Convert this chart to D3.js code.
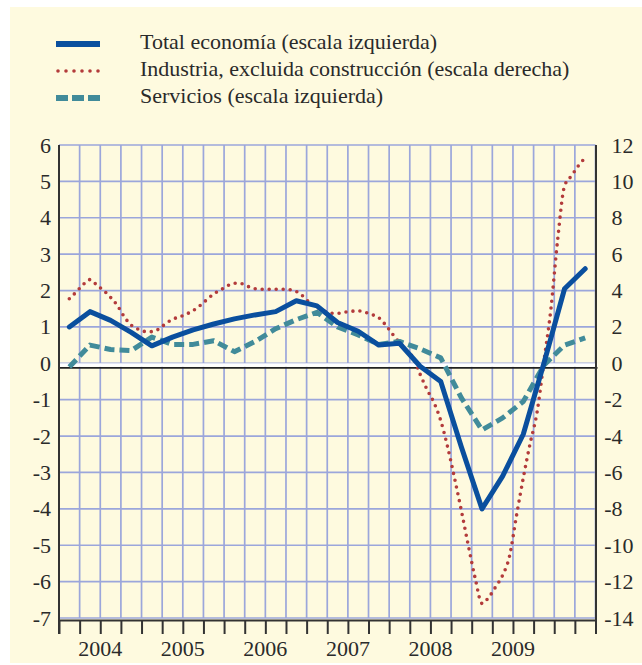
<!DOCTYPE html>
<html>
<head>
<meta charset="utf-8">
<script src="https://cdn.jsdelivr.net/npm/d3@7/dist/d3.min.js"></script>
<style>
  html, body { margin: 0; padding: 0; background: #ffffff; }
  svg { display: block; }
</style>
</head>
<body>
<script>
// ---------------- DATA ----------------
// Quarters 2004 Q1 .. 2010 Q2
const quarters = ["2004T1","2004T2","2004T3","2004T4","2005T1","2005T2","2005T3","2005T4",
  "2006T1","2006T2","2006T3","2006T4","2007T1","2007T2","2007T3","2007T4",
  "2008T1","2008T2","2008T3","2008T4","2009T1","2009T2","2009T3","2009T4","2010T1","2010T2"];
const yearLabels = ["2004","2005","2006","2007","2008","2009"];
const leftTicks = [-7,-6,-5,-4,-3,-2,-1,0,1,2,3,4,5,6];
const rightTicks = [-14,-12,-10,-8,-6,-4,-2,0,2,4,6,8,10,12];

// Total economía (left scale), quarterly
const totalEconomia = [1.0,1.42,1.18,0.85,0.48,0.72,0.92,1.08,1.22,1.33,1.42,1.72,1.58,1.12,0.88,0.5,
  0.55,-0.08,-0.5,-2.3,-4.0,-3.1,-1.95,0.0,2.05,2.6];
// Servicios (left scale), quarterly
const servicios = [-0.1,0.5,0.38,0.35,0.72,0.52,0.52,0.62,0.32,0.6,0.95,1.2,1.4,1.0,0.78,0.52,
  0.6,0.4,0.15,-0.95,-1.83,-1.5,-1.05,-0.05,0.5,0.7];
// Industria, excluida construcción (right scale), monthly from Feb 2004 to May 2010
const industria = [3.55,3.92,4.32,4.6,4.3,4.0,3.62,3.17,2.55,2.1,1.88,1.75,
  1.74,1.88,2.18,2.42,2.55,2.7,2.9,3.17,3.5,3.82,4.03,4.26,
  4.4,4.38,4.22,4.1,4.07,4.07,4.07,4.07,4.05,3.95,3.68,3.32,
  3.07,2.88,2.75,2.75,2.81,2.86,2.88,2.8,2.68,2.5,2.1,1.6,
  1.15,0.72,0.3,-0.6,-1.44,-2.15,-3.15,-4.6,-6.3,-8.1,-10.0,-11.8,
  -13.2,-12.85,-12.28,-11.65,-10.6,-8.4,-6.3,-4.4,-2.7,0.1,2.93,6.8,
  9.75,10.3,10.85,11.3];

const legendItems = [
  {label: "Total economía (escala izquierda)", key: "total"},
  {label: "Industria, excluida construcción (escala derecha)", key: "ind"},
  {label: "Servicios (escala izquierda)", key: "serv"}
];

// ---------------- STYLE ----------------
const W = 642, H = 665;
const FONT = '"Liberation Serif"';
const FS = 22;
const cream = "#fefadf";
const gridColor = "#9ba6db";
const axisColor = "#333333";
const textColor = "#2a2a2a";
const cBlue = "#0a4f9e";
const cRed = "#b33b3b";
const cTeal = "#418b9a";

const styles = {
  total: {stroke: cBlue, width: 5, dash: null, cap: "round"},
  ind:   {stroke: cRed, width: 3.6, dash: "0 7", cap: "round"},
  serv:  {stroke: cTeal, width: 5, dash: "10 5", cap: "butt"}
};

function styleText(sel) {
  return sel.style("font-family", FONT).style("font-size", FS + "px").attr("fill", textColor);
}

const svg = d3.select("body").append("svg").attr("width", W).attr("height", H);
svg.append("rect").attr("x", 0).attr("y", 0).attr("width", W).attr("height", H).attr("fill", "#ffffff");
svg.append("rect").attr("x", 10).attr("y", 7).attr("width", W - 10).attr("height", H - 9).attr("fill", cream);

const pL = 59, pR = 595.5, pT = 145, pB = 618;
const x = d3.scaleLinear().domain([-0.5, quarters.length - 0.5]).range([pL, pR]);
const yL = d3.scaleLinear().domain([-7, 6]).range([pB, pT]);
const yR = d3.scaleLinear().domain([-14, 12]).range([pB, pT]);

// grid
const g = svg.append("g");
g.selectAll("line.h").data(leftTicks).enter().append("line")
  .attr("x1", pL).attr("x2", pR)
  .attr("y1", d => yL(d)).attr("y2", d => yL(d))
  .attr("stroke", gridColor).attr("stroke-width", 1.7);
g.selectAll("line.v").data(d3.range(quarters.length + 1)).enter().append("line")
  .attr("x1", d => x(d - 0.5)).attr("x2", d => x(d - 0.5))
  .attr("y1", pT).attr("y2", pB)
  .attr("stroke", gridColor).attr("stroke-width", 1.7);

// zero line (white band + black line)
const y0 = yL(0);
svg.append("rect").attr("x", pL).attr("y", y0).attr("width", pR - pL + 2).attr("height", 3.5).attr("fill", "#ffffff");
svg.append("line").attr("x1", pL).attr("x2", pR + 2).attr("y1", y0 + 4.6).attr("y2", y0 + 4.6)
  .attr("stroke", "#222").attr("stroke-width", 1.8);

// bottom axis with ticks
const xAxis = d3.axisBottom(x)
  .tickValues(d3.range(quarters.length + 1).map(i => i - 0.5))
  .tickSize(14).tickSizeOuter(0).tickFormat("");
const gx = svg.append("g").attr("transform", `translate(0,${pB + 2})`).call(xAxis);
gx.select(".domain").attr("stroke", axisColor).attr("stroke-width", 2);
gx.selectAll(".tick line").attr("stroke", axisColor).attr("stroke-width", 2);

// year labels
styleText(svg.selectAll("text.year").data(yearLabels).enter().append("text")
  .attr("x", (d, i) => x(i * 4 + 1.5))
  .attr("y", 656)
  .attr("text-anchor", "middle")
  .text(d => d));

// left/right axis lines
svg.append("line").attr("x1", pL).attr("x2", pL).attr("y1", pT).attr("y2", pB + 16)
  .attr("stroke", axisColor).attr("stroke-width", 2);
svg.append("line").attr("x1", pR + 0.5).attr("x2", pR + 0.5).attr("y1", pT).attr("y2", pB + 16)
  .attr("stroke", axisColor).attr("stroke-width", 2);

// left labels
const yAxisL = d3.axisLeft(yL).tickValues(leftTicks).tickSize(0).tickPadding(8).tickFormat(d => String(d));
const gl = svg.append("g").attr("transform", `translate(${pL},0)`).call(yAxisL);
gl.select(".domain").remove();
styleText(gl.selectAll("text"));

// right labels
const yAxisR = d3.axisRight(yR).tickValues(rightTicks).tickSize(0).tickPadding(16).tickFormat(d => String(d));
const gr = svg.append("g").attr("transform", `translate(${pR},0)`).call(yAxisR);
gr.select(".domain").remove();
styleText(gr.selectAll("text")).attr("dx", d => d < 0 ? -7.3 : 0);

// series
const lineQ = d3.line().x((d, i) => x(i)).y(d => yL(d));
const lineM = d3.line().x((d, i) => x(i / 3)).y(d => yR(d)).curve(d3.curveMonotoneX);

function drawPath(data, gen, st) {
  const p = svg.append("path").datum(data).attr("d", gen)
    .attr("fill", "none").attr("stroke", st.stroke).attr("stroke-width", st.width)
    .attr("stroke-linecap", st.cap).attr("stroke-linejoin", "round");
  if (st.dash) p.attr("stroke-dasharray", st.dash);
}
drawPath(industria, lineM, styles.ind);
drawPath(servicios, lineQ, styles.serv);
drawPath(totalEconomia, lineQ, styles.total);

// legend
const lg = svg.append("g");
legendItems.forEach((it, i) => {
  const yy = 44 + i * 27;
  const st = styles[it.key];
  const l = lg.append("line").attr("x1", it.key === "ind" ? 58 : 56).attr("x2", 100)
    .attr("y1", yy).attr("y2", yy)
    .attr("stroke", st.stroke).attr("stroke-width", it.key === "ind" ? 3.6 : 6)
    .attr("stroke-linecap", it.key === "ind" ? "round" : "butt");
  if (it.key === "ind") l.attr("stroke-dasharray", "0 8");
  if (it.key === "serv") l.attr("stroke-dasharray", "12 4");
  styleText(lg.append("text").attr("x", 140).attr("y", yy + 5).text(it.label));
});
</script>
</body>
</html>
